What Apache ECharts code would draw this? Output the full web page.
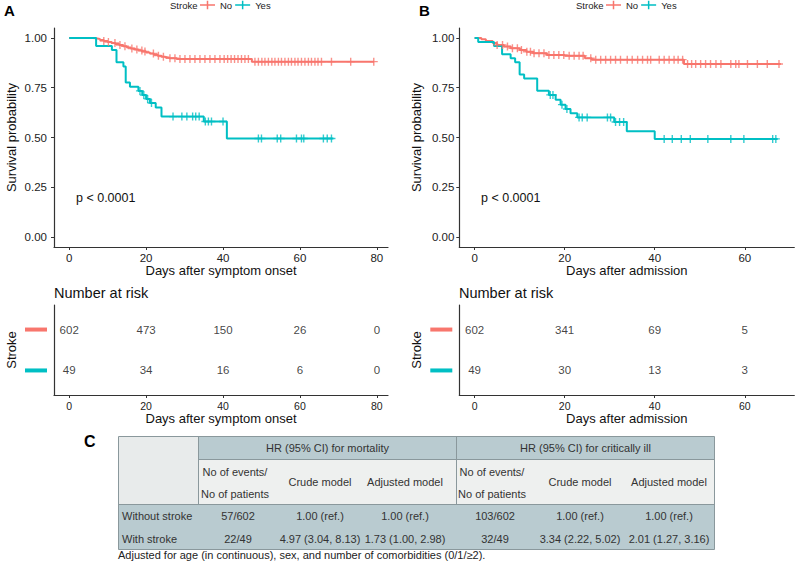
<!DOCTYPE html>
<html><head><meta charset="utf-8">
<script src="https://cdn.jsdelivr.net/npm/echarts@6/dist/echarts.min.js"></script>
<style>html,body{margin:0;padding:0;background:#fff}#c{width:800px;height:565px}</style>
</head><body><div id="c"></div>
<script>
// ---------- data ----------
var xTicksA = [0, 20, 40, 60, 80];
var xTicksB = [0, 20, 40, 60];
var yTicks = [0, 0.25, 0.5, 0.75, 1];
var groups = ['No', 'Yes'];

// Panel A: days after symptom onset (step times / survival)
var aNoT = [0, 6, 7, 8, 9, 10, 11, 12, 13, 14, 15, 16, 17, 18, 19, 20, 21, 22, 23, 24, 25, 26, 28, 47.5, 79.3];
var aNoS = [1, 0.998, 0.995, 0.99, 0.985, 0.98, 0.975, 0.97, 0.964, 0.958, 0.952, 0.947, 0.942, 0.937, 0.932, 0.927, 0.922, 0.916, 0.911, 0.906, 0.902, 0.898, 0.894, 0.881, 0.881];
var aNoCens = [9, 10.2, 11.9, 13.2, 14.5, 16.3, 17.6, 18.9, 19.7, 21.9, 23.2, 24.5, 26.2, 27.5, 28.8, 30.1, 31.4, 32.7, 34, 35.3, 36.6, 37.9, 39.2, 40.3, 41.2, 42.1, 43, 43.9, 44.8, 45.7, 46.6, 48.3, 49.2, 50.1, 50.9, 51.8, 52.7, 53.5, 54.4, 55.2, 56.1, 57, 57.8, 58.7, 59.5, 60.4, 61.3, 62.2, 63, 63.9, 64.7, 65.6, 68.2, 73.2, 79.2];
var aYesT = [0, 7, 11.1, 12.3, 14.1, 14.7, 15.8, 18, 19, 20, 21, 22.5, 24, 35, 41, 68.7];
var aYesS = [1, 0.959, 0.939, 0.878, 0.857, 0.776, 0.755, 0.734, 0.713, 0.694, 0.673, 0.651, 0.605, 0.58, 0.495, 0.495];
var aYesCens = [18.4, 19.4, 20.4, 21.4, 27, 29.3, 30.6, 32.1, 32.9, 33.8, 35.4, 36.2, 37, 40, 49.2, 50, 54.1, 55, 59.1, 60.4, 61, 66.1, 67.1, 68.2];

// Panel B: days after admission
var bNoT = [0, 1.5, 2.5, 4, 5, 6.5, 8, 10, 11.5, 13, 16, 20, 24.5, 26, 46.5, 68];
var bNoS = [1, 0.993, 0.985, 0.975, 0.965, 0.957, 0.948, 0.939, 0.931, 0.923, 0.915, 0.91, 0.898, 0.891, 0.869, 0.869];
var bNoCens = [5, 6.2, 7.3, 8.4, 9.5, 10.4, 11.6, 12.4, 13.2, 14.3, 15.4, 16.5, 17.6, 18.7, 19.8, 21, 22.1, 23.2, 24.1, 25.8, 26.9, 28, 29.1, 30.2, 31.3, 32.4, 33.9, 35, 36.2, 37.3, 38.4, 39.1, 41, 42.1, 43.2, 44.3, 45.2, 46.2, 47.3, 48.2, 49.1, 50.2, 51.3, 52.4, 53.6, 54.7, 56.9, 58, 58.7, 60.6, 62.8, 65, 67.6];
var bYesT = [0, 0.8, 4.3, 6.1, 8, 9, 10, 11, 13.9, 16.5, 18, 19.1, 20.2, 21.3, 22.8, 31, 33.8, 40, 67.3];
var bYesS = [1, 0.98, 0.959, 0.918, 0.898, 0.878, 0.816, 0.796, 0.735, 0.714, 0.69, 0.665, 0.643, 0.622, 0.601, 0.578, 0.532, 0.493, 0.493];
var bYesCens = [16.8, 17.4, 19.4, 20.5, 23.2, 23.9, 25, 29.5, 30.2, 31.3, 32.2, 33.1, 42.1, 43.9, 45.9, 47.9, 51.8, 56.9, 59.8, 66.2, 66.9];

// Numbers at risk
var riskTimesA = [0, 20, 40, 60, 80];
var riskNoA = [602, 473, 150, 26, 0];
var riskYesA = [49, 34, 16, 6, 0];
var riskTimesB = [0, 20, 40, 60];
var riskNoB = [602, 341, 69, 5];
var riskYesB = [49, 30, 13, 3];

// Table C
var tableGroupHeaders = ['HR (95% CI) for mortality', 'HR (95% CI) for critically ill'];
var tableSubHeaders = [['No of events/', 'No of patients'], ['Crude model'], ['Adjusted model']];
var tableRowLabels = ['Without stroke', 'With stroke'];
var tableMortality = [['57/602', '1.00 (ref.)', '1.00 (ref.)'], ['22/49', '4.97 (3.04, 8.13)', '1.73 (1.00, 2.98)']];
var tableCritical = [['103/602', '1.00 (ref.)', '1.00 (ref.)'], ['32/49', '3.34 (2.22, 5.02)', '2.01 (1.27, 3.16)']];
var footnote = 'Adjusted for age (in continuous), sex, and number of comorbidities (0/1/\u22652).';

// ---------- styling ----------
var RED = '#F8766D', TEAL = '#00BFC4';
var FONT = 'Liberation Sans, Arial, Helvetica, sans-serif';
var AX = '#333';
var crossPath = 'path://M3.3,0H4.7V3.3H8V4.7H4.7V8H3.3V4.7H0V3.3H3.3Z';
var legendIcon = 'path://M0,3.7H7.2V0H8.8V3.7H16V5.3H8.8V9H7.2V5.3H0Z';

function steps(T, S) { return T.map(function (t, i) { return [t, S[i]]; }); }
function survAt(T, S, t) { var v = S[0]; for (var i = 0; i < T.length; i++) { if (T[i] <= t) v = S[i]; } return v; }
function cens(T, S, C) { return C.map(function (t) { return [t, survAt(T, S, t)]; }); }

var chart = echarts.init(document.getElementById('c'), null, { renderer: 'svg' });

function xAx(grid, min, max, ticks, name, labelSize) {
  return {
    type: 'value', gridIndex: grid, min: min, max: max,
    axisLine: { show: true, onZero: false, lineStyle: { color: AX, width: 1.2 } },
    axisTick: { show: true, length: 3, customValues: ticks, lineStyle: { color: AX, width: 1 } },
    axisLabel: { customValues: ticks, color: '#222', fontSize: labelSize, margin: 5, fontFamily: FONT },
    splitLine: { show: false },
    name: name, nameLocation: 'middle', nameGap: 17, nameMoveOverlap: false,
    nameTextStyle: { fontSize: 13, color: '#111', fontFamily: FONT }
  };
}
function yKM(grid, margin) {
  return {
    type: 'value', gridIndex: grid, min: -0.05, max: 1.05,
    axisLine: { show: true, onZero: false, lineStyle: { color: AX, width: 1.2 } },
    axisTick: { show: true, length: 3, customValues: yTicks, lineStyle: { color: AX, width: 1 } },
    axisLabel: { customValues: yTicks, color: '#222', fontSize: 11.5, margin: margin, fontFamily: FONT,
      formatter: function (v) { return v.toFixed(2); } },
    splitLine: { show: false },
    name: 'Survival probability', nameLocation: 'middle', nameGap: 36, nameMoveOverlap: false,
    nameTextStyle: { fontSize: 13, color: '#111', fontFamily: FONT }
  };
}
function yRisk(grid) {
  return {
    type: 'value', gridIndex: grid, min: 0.4, max: 2.6,
    axisLine: { show: true, onZero: false, lineStyle: { color: AX, width: 1.2 } },
    axisTick: { show: false },
    axisLabel: { customValues: [1, 2], margin: 7,
      formatter: function (v) { return v === 2 ? '{r|}' : '{t|}'; },
      rich: { r: { backgroundColor: RED, width: 22, height: 4 }, t: { backgroundColor: TEAL, width: 22, height: 4 } } },
    splitLine: { show: false },
    name: 'Stroke', nameLocation: 'middle', nameGap: 36, nameMoveOverlap: false,
    nameTextStyle: { fontSize: 13, color: '#111', fontFamily: FONT }
  };
}

function kmLine(name, T, S, color, xi) {
  return { name: name, type: 'line', step: 'end', xAxisIndex: xi, yAxisIndex: xi, data: steps(T, S),
    showSymbol: false, symbol: 'none', lineStyle: { color: color, width: 2 }, itemStyle: { color: color },
    silent: true, animation: false };
}
function kmCens(name, T, S, C, color, xi) {
  return { name: name + ' censored', type: 'scatter', xAxisIndex: xi, yAxisIndex: xi, data: cens(T, S, C),
    symbol: crossPath, symbolSize: 8, itemStyle: { color: color }, silent: true, animation: false, z: 3 };
}
function riskSeries(times, vals, row, xi) {
  return { name: 'risk', type: 'scatter', xAxisIndex: xi, yAxisIndex: xi,
    data: times.map(function (t, i) { return [t, row, vals[i]]; }),
    symbolSize: 0, itemStyle: { color: 'transparent' }, silent: true, animation: false,
    label: { show: true, position: 'inside', color: '#111', fontSize: 11.5, fontFamily: FONT,
      formatter: function (p) { return String(p.data[2]); } } };
}
function legendAt(left) {
  return { data: groups, left: left, top: 0, padding: 0, itemWidth: 15, itemHeight: 9, itemGap: 3,
    icon: legendIcon, itemStyle: { borderWidth: 0 }, selectedMode: false,
    textStyle: { fontSize: 9.5, color: '#222', fontFamily: FONT, padding: [0, 0, 0, 0] } };
}

// ---------- table C graphics ----------
var tX = [118.5, 198.5, 456.5, 714.5];
var tY = [436.5, 459.5, 504.5, 527.5, 549.5];
var subCx = [[238, 320, 405], [495, 580, 669]];
var HDR = '#b9cbd0', LIGHT = '#eef0ef', LIGHT2 = '#e8ebeb', BORDER = '#8a989c', TXT = '#333';
var g = [];
function rect(x1, y1, x2, y2, fill) { g.push({ type: 'rect', shape: { x: x1, y: y1, width: x2 - x1, height: y2 - y1 }, style: { fill: fill }, silent: true }); }
function line(x1, y1, x2, y2) { g.push({ type: 'line', shape: { x1: x1, y1: y1, x2: x2, y2: y2 }, style: { stroke: BORDER, lineWidth: 1 }, silent: true }); }
function txt(s, x, y, opt) {
  opt = opt || {};
  g.push({ type: 'text', x: x, y: y, silent: true, style: { text: s, fill: opt.fill || TXT, fontSize: opt.size || 11,
    fontWeight: opt.weight || 'normal', fontFamily: FONT, align: opt.align || 'center', verticalAlign: 'middle' }, rotation: opt.rot || 0 });
}
rect(tX[0], tY[0], tX[1], tY[2], LIGHT2);
rect(tX[1], tY[0], tX[3], tY[1], HDR);
rect(tX[1], tY[1], tX[3], tY[2], LIGHT);
rect(tX[0], tY[2], tX[3], tY[4], HDR);
line(tX[0], tY[0], tX[3], tY[0]);
line(tX[1], tY[1], tX[3], tY[1]);
line(tX[0], tY[2], tX[3], tY[2]);
line(tX[0], tY[4], tX[3], tY[4]);
line(tX[0], tY[0], tX[0], tY[4]);
line(tX[3], tY[0], tX[3], tY[4]);
line(tX[1], tY[0], tX[1], tY[2]);
line(tX[2], tY[0], tX[2], tY[2]);
tableGroupHeaders.forEach(function (h, k) { txt(h, (tX[k + 1] + tX[k + 2]) / 2, 448); });
[0, 1].forEach(function (k) {
  tableSubHeaders.forEach(function (sh, j) {
    if (sh.length === 2) { txt(sh[0], subCx[k][j] - 3, 471.5); txt(sh[1], subCx[k][j] - 3, 494); }
    else txt(sh[0], subCx[k][j], 482);
  });
});
var rowCy = [516, 539];
tableRowLabels.forEach(function (r, i) {
  txt(r, 122, rowCy[i], { align: 'left' });
  tableMortality[i].forEach(function (v, j) { txt(v, subCx[0][j], rowCy[i]); });
  tableCritical[i].forEach(function (v, j) { txt(v, subCx[1][j], rowCy[i]); });
});
txt(footnote, 118, 555, { align: 'left', fill: '#222' });

// other labels
txt('A', 4, 10, { align: 'left', size: 15, weight: 'bold', fill: '#000' });
txt('B', 419, 10, { align: 'left', size: 15, weight: 'bold', fill: '#000' });
txt('C', 84, 441, { align: 'left', size: 16, weight: 'bold', fill: '#000' });
txt('Stroke', 170, 5, { align: 'left', size: 9.5, fill: '#222' });
txt('Stroke', 576, 5, { align: 'left', size: 9.5, fill: '#222' });
txt('p < 0.0001', 76, 198, { align: 'left', size: 12.5, fill: '#111' });
txt('p < 0.0001', 481, 198, { align: 'left', size: 12.5, fill: '#111' });
txt('Number at risk', 54, 293, { align: 'left', size: 14.5, fill: '#111' });
txt('Number at risk', 459, 293, { align: 'left', size: 14.5, fill: '#111' });

var option = {
  animation: false,
  textStyle: { fontFamily: FONT },
  legend: [legendAt(200), legendAt(606)],
  grid: [
    { left: 54, top: 28, width: 334, height: 219 },
    { left: 459.3, top: 28, width: 335, height: 219 },
    { left: 54, top: 305, width: 334, height: 90 },
    { left: 459.3, top: 305, width: 335, height: 90 }
  ],
  xAxis: [
    xAx(0, -3.95, 82.9, xTicksA, 'Days after symptom onset', 11.5),
    xAx(1, -3.4, 71, xTicksB, 'Days after admission', 11.5),
    xAx(2, -3.95, 82.9, xTicksA, 'Days after symptom onset', 10.5),
    xAx(3, -3.4, 71, xTicksB, 'Days after admission', 10.5)
  ],
  yAxis: [yKM(0, 7), yKM(1, 5), yRisk(2), yRisk(3)],
  series: [
    kmLine('No', aNoT, aNoS, RED, 0),
    kmLine('Yes', aYesT, aYesS, TEAL, 0),
    kmCens('No', aNoT, aNoS, aNoCens, RED, 0),
    kmCens('Yes', aYesT, aYesS, aYesCens, TEAL, 0),
    kmLine('No', bNoT, bNoS, RED, 1),
    kmLine('Yes', bYesT, bYesS, TEAL, 1),
    kmCens('No', bNoT, bNoS, bNoCens, RED, 1),
    kmCens('Yes', bYesT, bYesS, bYesCens, TEAL, 1),
    riskSeries(riskTimesA, riskNoA, 2, 2),
    riskSeries(riskTimesA, riskYesA, 1, 2),
    riskSeries(riskTimesB, riskNoB, 2, 3),
    riskSeries(riskTimesB, riskYesB, 1, 3)
  ],
  graphic: g
};
chart.setOption(option);
</script></body></html>
